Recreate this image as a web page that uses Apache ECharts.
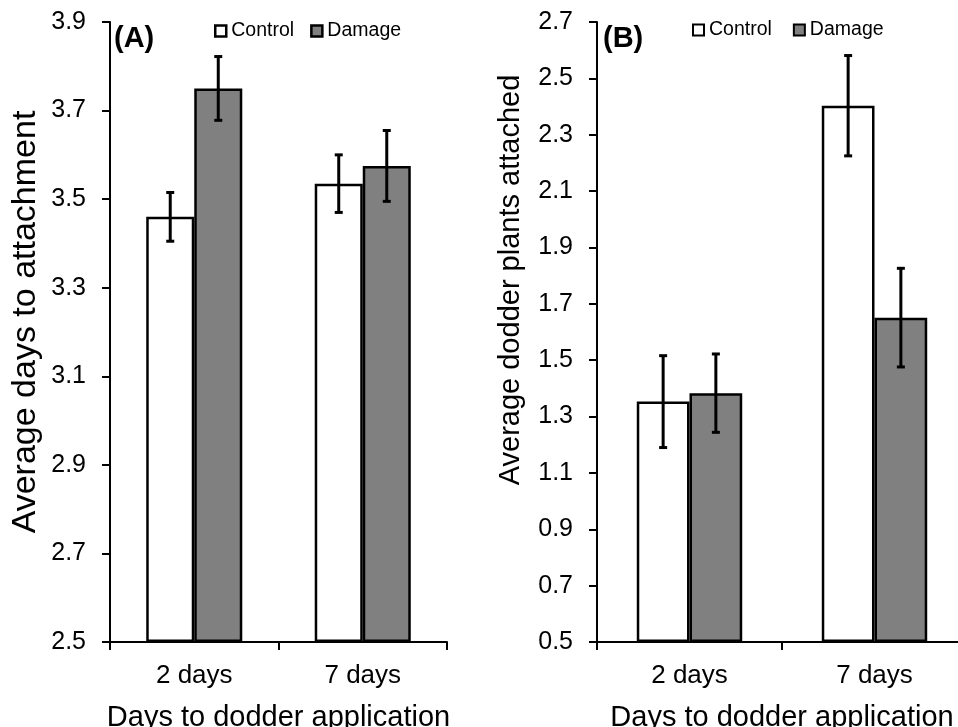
<!DOCTYPE html>
<html>
<head>
<meta charset="utf-8">
<script src="https://cdn.jsdelivr.net/npm/echarts@6/dist/echarts.min.js"></script>
<style>html,body{margin:0;padding:0;background:#fff;}#c{width:958px;height:727px;}</style>
</head>
<body>
<div id="c"></div>
<script>
const categories = ['2 days', '7 days'];
const seriesNames = ['Control', 'Damage'];
// Panel A: average days to attachment
const aControl = [3.46, 3.535];
const aControlErr = [0.055, 0.065];
const aDamage = [3.75, 3.575];
const aDamageErr = [0.072, 0.08];
// Panel B: average dodder plants attached
const bControl = [1.353, 2.403];
const bControlErr = [0.163, 0.178];
const bDamage = [1.383, 1.651];
const bDamageErr = [0.139, 0.175];
// tick labels
const aTicks = [2.5, 2.7, 2.9, 3.1, 3.3, 3.5, 3.7, 3.9];
const bTicks = [0.5, 0.7, 0.9, 1.1, 1.3, 1.5, 1.7, 1.9, 2.1, 2.3, 2.5, 2.7];

const FONT = 'Liberation Sans, Arial, sans-serif';
const CAT_GAP = 0.43;
const colors = { Control: '#ffffff', Damage: '#808080' };

function errData(vals, errs) {
  return vals.map((v, i) => [i, v - errs[i], v + errs[i]]);
}
function errRender(side) {
  return function (params, api) {
    const cat = api.value(0);
    const lo = api.coord([cat, api.value(1)]);
    const hi = api.coord([cat, api.value(2)]);
    const catW = api.size([1, 0])[0];
    const bw = catW * (1 - CAT_GAP) / 2;
    const x = lo[0] + side * bw / 2;
    const cap = 4;
    const st = { stroke: '#000', lineWidth: 3 };
    return {
      type: 'group',
      children: [
        { type: 'line', shape: { x1: x, y1: hi[1], x2: x, y2: lo[1] }, style: st },
        { type: 'line', shape: { x1: x - cap, y1: hi[1], x2: x + cap, y2: hi[1] }, style: st },
        { type: 'line', shape: { x1: x - cap, y1: lo[1], x2: x + cap, y2: lo[1] }, style: st }
      ]
    };
  };
}
function barSeries(name, data, idx) {
  return {
    type: 'bar', name: name, data: data,
    xAxisIndex: idx, yAxisIndex: idx,
    barGap: '0%', barCategoryGap: (CAT_GAP * 100) + '%',
    itemStyle: { color: colors[name], borderColor: '#000', borderWidth: 2.5 },
    clip: true, z: 2, animation: false
  };
}
function errSeries(data, idx, side) {
  return {
    type: 'custom', name: 'err' + idx + side, data: data,
    xAxisIndex: idx, yAxisIndex: idx,
    encode: { x: 0, y: [1, 2] },
    renderItem: errRender(side), z: 3, animation: false, silent: true
  };
}
function xAxisDef(idx) {
  return {
    type: 'category', gridIndex: idx, data: categories, z: 10,
    axisLine: { show: true, lineStyle: { color: '#000', width: 2 } },
    axisTick: { show: true, inside: false, length: 8, lineStyle: { color: '#000', width: 2 } },
    axisLabel: { color: '#000', fontSize: 26, margin: 21, fontFamily: FONT },
    name: 'Days to dodder application', nameLocation: 'middle', nameGap: 61,
    nameTextStyle: { color: '#000', fontSize: 29, fontFamily: FONT }
  };
}
function yAxisDef(idx, ticks, name, nameSize, nameGap, shift) {
  return {
    type: 'value', gridIndex: idx, min: ticks[0], max: ticks[ticks.length - 1],
    interval: Math.round((ticks[1] - ticks[0]) * 100) / 100,
    startValue: ticks[0], z: 10,
    splitLine: { show: false },
    axisLine: { show: true, lineStyle: { color: '#000', width: 2 } },
    axisTick: { show: true, inside: false, length: 8,
      lineStyle: { color: '#000', width: 2 } },
    axisLabel: { color: '#000', fontSize: 25, margin: 24, fontFamily: FONT,
      formatter: v => v.toFixed(1) },
    name: name, nameLocation: 'middle', nameGap: nameGap,
    nameTextStyle: { color: '#000', fontSize: nameSize, fontFamily: FONT,
      padding: [0, 0, 0, shift] }
  };
}
function legendDef(left, top, gap, bw) {
  return {
    data: seriesNames, left: left, top: top, orient: 'horizontal',
    itemWidth: 11, itemHeight: 11, itemGap: gap, padding: 0,
    icon: 'rect', selectedMode: false,
    itemStyle: { borderColor: '#000', borderWidth: bw },
    textStyle: { color: '#000', fontSize: 19.5, fontFamily: FONT }
  };
}

const chart = echarts.init(document.getElementById('c'), null, { renderer: 'canvas' });
chart.setOption({
  animation: false,
  backgroundColor: '#fff',
  textStyle: { fontFamily: FONT },
  title: [
    { text: '(A)', left: 114, top: 24, padding: 0,
      textStyle: { fontSize: 29, fontWeight: 'bold', color: '#000', fontFamily: FONT } },
    { text: '(B)', left: 603, top: 24, padding: 0,
      textStyle: { fontSize: 29, fontWeight: 'bold', color: '#000', fontFamily: FONT } }
  ],
  legend: [legendDef(214, 21, 16, 2.5), legendDef(692, 20, 21, 2)],
  grid: [
    { left: 110, top: 22, width: 337, height: 620, outerBoundsMode: 'none', containLabel: false },
    { left: 597, top: 22, width: 370, height: 620, outerBoundsMode: 'none', containLabel: false }
  ],
  xAxis: [xAxisDef(0), xAxisDef(1)],
  yAxis: [
    yAxisDef(0, aTicks, 'Average days to attachment', 34, 67, 20),
    yAxisDef(1, bTicks, 'Average dodder plants attached', 29, 72, 104)
  ],
  series: [
    barSeries('Control', aControl, 0),
    barSeries('Damage', aDamage, 0),
    barSeries('Control', bControl, 1),
    barSeries('Damage', bDamage, 1),
    errSeries(errData(aControl, aControlErr), 0, -1),
    errSeries(errData(aDamage, aDamageErr), 0, 1),
    errSeries(errData(bControl, bControlErr), 1, -1),
    errSeries(errData(bDamage, bDamageErr), 1, 1)
  ]
});
</script>
</body>
</html>
